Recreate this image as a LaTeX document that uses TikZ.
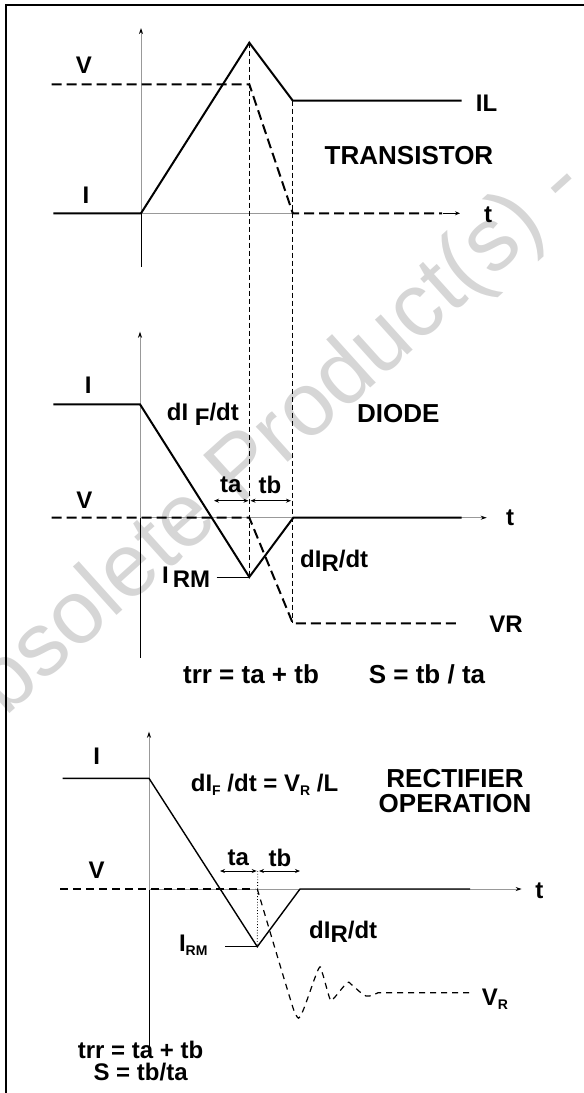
\documentclass[tikz,border=0pt]{standalone}
\usepackage{fontspec}
\setmainfont{Liberation Sans}
\usetikzlibrary{arrows.meta,positioning}

\tikzset{
  lbl/.style={font=\fontsize{24}{26}\selectfont\bfseries, inner sep=0pt},
  title/.style={font=\fontsize{26}{25}\selectfont\bfseries, inner sep=0pt, align=center},
  formula/.style={font=\fontsize{26}{26}\selectfont\bfseries, inner sep=0pt},
  curve/.style={line width=2pt, line join=miter},
  thincurve/.style={line width=1.4pt, line join=miter},
  vdash/.style={line width=2pt, dash pattern=on 10pt off 5pt},
  guide/.style={line width=0.8pt, dash pattern=on 5pt off 3pt},
  axisline/.style={line width=1pt, black!40},
  axistip/.style={-{Stealth[length=6pt,width=4pt,color=black]}},
  dimarrow/.style={line width=0.8pt, {Stealth[length=5pt,width=4pt]}-{Stealth[length=5pt,width=4pt]}},
  watermark/.style={font=\fontsize{90}{90}\selectfont, text=black!16, inner sep=0pt},
}
\newcommand{\lowtext}[1]{\raisebox{-4.5pt}{#1}}
\newcommand{\subtext}[1]{\raisebox{-4pt}{\fontsize{14}{14}\selectfont #1}}

\begin{document}
\begin{tikzpicture}[x=1pt,y=-1pt]
  \useasboundingbox (0,0) rectangle (584,1093);
  % watermark
  \begin{scope}
    \clip (0,0) rectangle (584,1093);
    \node[watermark, rotate=42, anchor=base west] (mark) at (-47,764) {Obsolete Product(s) -};
  \end{scope}
  % frame
  \draw[line width=2pt] (5.6,1093) -- (5.6,5) -- (584,5);

  % ---- transistor ----
  \coordinate (Oa) at (141,213.3);
  \coordinate (Pa) at (249.3,42.7);
  \coordinate (Ka) at (292.8,100.7);
  \draw[axisline, axistip] (Oa) -- (141,28);
  \draw[line width=1pt] (Oa) -- (141,267);
  \draw[axisline] (Oa) -- (292.8,213.3);
  \draw[curve] (53.3,213.3) -- (Oa) -- (Pa) -- (Ka) -- (461.7,100.7);
  \draw[vdash] (51.7,84.3) -- (249.3,84.3) -- (292.8,213.3) -- (442,213.3);
  \draw[line width=0.8pt, -{Stealth[length=5pt,width=4pt]}] (443,213.3) -- (460,213.3);
  \node[lbl] (Va) at (84,65) {V};
  \node[lbl] (Ia) at (86,195) {I};
  \node[lbl] (IL) at (486.5,103) {IL};
  \node[lbl] (ta0) at (488,215) {t};
  \node[title] (trans) at (409,156) {TRANSISTOR};

  % ---- diode ----
  \coordinate (Ob) at (140,517.7);
  \coordinate (Tb) at (249.3,577);
  \coordinate (Kb) at (293.3,517.7);
  \coordinate (Rb) at (292.8,623.3);
  \draw[guide] (Pa) -- (Tb);
  \draw[guide] (Ka) -- (Rb);
  \draw[axisline, axistip] (Ob) -- (140,331.7);
  \draw[line width=1pt] (Ob) -- (140,658.3);
  \draw[axisline, axistip] (Ob) -- (486.7,517.7);
  \draw[vdash] (51.7,517.7) -- (249.3,517.7) -- (Rb) -- (460,623.3);
  \draw[curve] (53.3,404.3) -- (140,404.3) -- (Tb) -- (Kb) -- (461.7,517.7);
  \draw[line width=1pt] (216.7,577) -- (Tb);
  \draw[dimarrow] (214,500.7) -- (248.5,500.7);
  \draw[dimarrow] (250.5,500.7) -- (291,500.7);
  \node[lbl] (Ib) at (88.3,385) {I};
  \node[lbl] (Vb) at (84.5,500) {V};
  \node[lbl, anchor=base west] (dIFb) at (166.7,420.5) {dI \lowtext{F}/dt};
  \node[title] (diode) at (398.3,414) {DIODE};
  \node[lbl] (tab) at (230.7,485) {ta};
  \node[lbl] (tbb) at (270,485) {tb};
  \node[lbl] (tb0) at (510,518) {t};
  \node[lbl, anchor=base west] (IRMb) at (162,583.3) {I\hspace{4pt}\lowtext{RM}};
  \node[lbl, anchor=base west] (dIRb) at (300,567.3) {dI\lowtext{R}/dt};
  \node[lbl] (VRb) at (506,624) {VR};
  \node[formula] (trrb) at (251,674) {trr = ta + tb};
  \node[formula] (Sb) at (427,674) {S = tb / ta};

  % ---- rectifier operation ----
  \coordinate (Oc) at (149,889);
  \coordinate (Tc) at (257.3,946.7);
  \coordinate (Kc) at (300,889);
  \draw[axisline, axistip] (Oc) -- (149,731.7);
  \draw[line width=1pt] (Oc) -- (149,1046.7);
  \draw[axisline, axistip] (Oc) -- (521.7,889);
  \draw[line width=1.7pt, dash pattern=on 8pt off 5pt] (60,889) -- (255,889);
  \draw[thincurve] (62.7,778.3) -- (149,778.3) -- (Tc) -- (Kc) -- (470,889);
  \draw[line width=1pt] (225.3,946.7) -- (Tc);
  \draw[line width=0.8pt, dotted] (257.7,871) -- (Tc);
  \draw[dimarrow] (220,871) -- (256.7,871);
  \draw[dimarrow] (259,871) -- (300,871);
  \draw[line width=1.2pt, dash pattern=on 6pt off 5pt]
    plot[smooth, tension=0.55] coordinates {(257.3,889) (286,985) (296,1015) (302,1013) (318,970) (322,972) (330,999) (334,998) (347,983) (352,985) (366,996) (378,992.7)}
    -- (470,992.7);
  \node[lbl] (Ic) at (96.7,756.7) {I};
  \node[lbl] (Vc) at (96.7,870) {V};
  \node[lbl, anchor=base west] (dIFc) at (190.7,791) {dI\subtext{F} /dt = V\subtext{R} /L};
  \node[title] (rect) at (455,791.5) {RECTIFIER\\OPERATION};
  \node[lbl] (tac) at (238.3,857.7) {ta};
  \node[lbl] (tbc) at (280,857.7) {tb};
  \node[lbl] (tc0) at (539.3,890.7) {t};
  \node[lbl, anchor=base west] (IRMc) at (178.8,951.7) {I\subtext{RM}};
  \node[lbl, anchor=base west] (dIRc) at (309,938.3) {dI\lowtext{R}/dt};
  \node[lbl, anchor=base west] (VRc) at (481.7,1005) {V\subtext{R}};
  \node[lbl] (trrc) at (140.6,1050) {trr = ta + tb};
  \node[lbl, below=4pt of trrc] (Sc) {S = tb/ta};
\end{tikzpicture}
\end{document}
